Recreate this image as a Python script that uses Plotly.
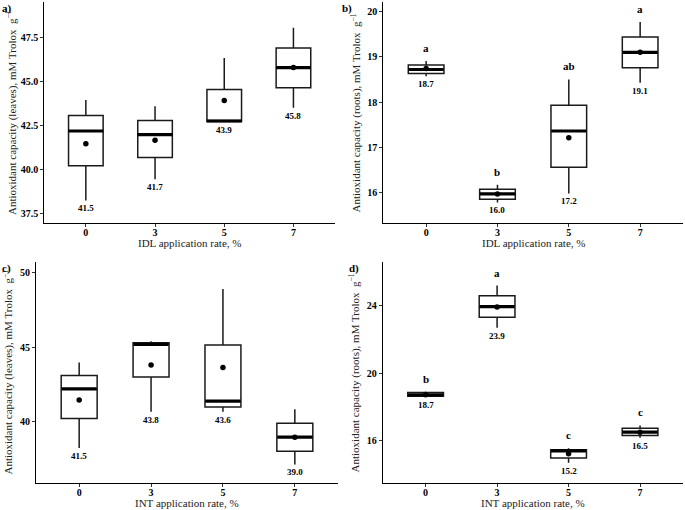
import plotly.graph_objects as go
from plotly.subplots import make_subplots

rates = ["0", "3", "5", "7"]

# a) IDL, leaves
a_q1 = [40.22, 40.70, 42.74, 44.66]
a_med = [42.20, 42.00, 42.77, 45.81]
a_q3 = [43.09, 42.80, 44.56, 46.93]
a_lo = [38.25, 39.45, 42.74, 43.52]
a_hi = [43.97, 43.61, 46.36, 48.07]
a_mean = [41.47, 41.68, 43.93, 45.81]

# b) IDL, roots
b_q1 = [18.63, 15.85, 16.56, 18.76]
b_med = [18.72, 15.97, 17.36, 19.10]
b_q3 = [18.82, 16.07, 17.93, 19.44]
b_lo = [18.57, 15.78, 15.98, 18.43]
b_hi = [18.91, 16.17, 18.50, 19.77]
b_mean = [18.74, 15.97, 17.21, 19.10]
b_letters = ["a", "b", "ab", "a"]

# c) INT, leaves
c_q1 = [40.22, 43.00, 41.00, 38.04]
c_med = [42.20, 45.18, 41.38, 38.98]
c_q3 = [43.09, 45.29, 45.13, 39.91]
c_lo = [38.25, 40.67, 40.67, 37.16]
c_hi = [43.97, 45.38, 48.87, 40.84]
c_mean = [41.47, 43.80, 43.64, 38.98]

# d) INT, roots
d_q1 = [18.64, 23.31, 15.00, 16.33]
d_med = [18.73, 23.94, 15.42, 16.52]
d_q3 = [18.86, 24.59, 15.48, 16.76]
d_lo = [18.60, 22.69, 14.72, 16.19]
d_hi = [18.92, 25.19, 15.57, 16.92]
d_mean = [18.73, 23.92, 15.24, 16.52]
d_letters = ["b", "a", "c", "c"]

FONT = "Liberation Serif, Times New Roman, serif"

panels = [
    dict(row=1, col=1, tag="a)", q1=a_q1, med=a_med, q3=a_q3, lo=a_lo, hi=a_hi, mean=a_mean, letters=None,
         xt="IDL application rate, %", part="leaves", rng=[36.95, 49.56], dtick=2.5, tick0=37.5, fmt=".1f"),
    dict(row=1, col=2, tag="b)", q1=b_q1, med=b_med, q3=b_q3, lo=b_lo, hi=b_hi, mean=b_mean, letters=b_letters,
         xt="IDL application rate, %", part="roots", rng=[15.32, 20.22], dtick=1, tick0=16, fmt="d"),
    dict(row=2, col=1, tag="c)", q1=c_q1, med=c_med, q3=c_q3, lo=c_lo, hi=c_hi, mean=c_mean, letters=None,
         xt="INT application rate, %", part="leaves", rng=[35.9, 50.7], dtick=5, tick0=40, fmt="d"),
    dict(row=2, col=2, tag="d)", q1=d_q1, med=d_med, q3=d_q3, lo=d_lo, hi=d_hi, mean=d_mean, letters=d_letters,
         xt="INT application rate, %", part="roots", rng=[13.5, 26.6], dtick=4, tick0=16, fmt="d"),
]

xdomains = {(1, 1): [0.0647, 0.489], (1, 2): [0.5596, 0.997],
            (2, 1): [0.0526, 0.4934], (2, 2): [0.5587, 0.997]}
ydomains = {1: [0.5622, 0.9967], 2: [0.0524, 0.4869]}
xtitle_y = {1: 0.5229, 2: 0.0131}
ytitle_x = {(1, 1): 0.0168, (1, 2): 0.5197, (2, 1): 0.0117, (2, 2): 0.5182}
tagpos = {(1, 1): (0.0, 1.0), (1, 2): (0.497, 1.0), (2, 1): (0.0, 0.49), (2, 2): (0.506, 0.49)}

fig = make_subplots(rows=2, cols=2)

for p in panels:
    r, c = p["row"], p["col"]
    fig.add_trace(go.Box(x=rates, q1=p["q1"], median=p["med"], q3=p["q3"],
                         lowerfence=p["lo"], upperfence=p["hi"],
                         width=0.5, whiskerwidth=0, boxpoints=False,
                         fillcolor="white", line=dict(color="#1a1a1a", width=1.5),
                         hoverinfo="skip", showlegend=False), row=r, col=c)
    # thick median bar
    fig.add_trace(go.Scatter(x=rates, y=p["med"], mode="markers",
                             marker=dict(symbol="line-ew", size=25,
                                         line=dict(color="black", width=3.2)),
                             showlegend=False, hoverinfo="skip"), row=r, col=c)
    # mean point
    fig.add_trace(go.Scatter(x=rates, y=p["mean"], mode="markers",
                             marker=dict(symbol="circle", size=5.5, color="black"),
                             showlegend=False, hoverinfo="skip"), row=r, col=c)

    idx = (r - 1) * 2 + c
    xref = "x" if idx == 1 else "x%d" % idx
    yref = "y" if idx == 1 else "y%d" % idx
    for i, m in enumerate(p["mean"]):
        fig.add_annotation(x=i, y=p["lo"][i], xref=xref, yref=yref, text="<b>%.1f</b>" % m,
                           showarrow=False, yanchor="top", yshift=-1,
                           font=dict(family=FONT, size=9, color="black"))
        if p["letters"]:
            fig.add_annotation(x=i, y=p["hi"][i], xref=xref, yref=yref, text="<b>%s</b>" % p["letters"][i],
                               showarrow=False, yanchor="bottom", yshift=5,
                               font=dict(family=FONT, size=11, color="black"))

    tx, ty = tagpos[(r, c)]
    fig.add_annotation(x=tx, y=ty, xref="paper", yref="paper", text="<b>%s</b>" % p["tag"],
                       showarrow=False, xanchor="left", yanchor="top",
                       font=dict(family=FONT, size=11, color="black"))
    # axis titles
    xd = xdomains[(r, c)]
    yd = ydomains[r]
    fig.add_annotation(x=(xd[0] + xd[1]) / 2, y=xtitle_y[r], xref="paper", yref="paper", text=p["xt"],
                       showarrow=False, xanchor="center", yanchor="middle",
                       font=dict(family=FONT, size=11, color="#222222"))
    fig.add_annotation(x=ytitle_x[(r, c)], y=(yd[0] + yd[1]) / 2, xref="paper", yref="paper",
                       text="Antioxidant capacity (%s), mM Trolox  g<sup>\u22121</sup>" % p["part"],
                       textangle=-90, showarrow=False, xanchor="center", yanchor="middle",
                       font=dict(family=FONT, size=11, color="#222222"))

    fig.update_xaxes(type="category", range=[-0.6, 3.6], domain=xd,
                     showline=True, linecolor="black", linewidth=1, mirror=False,
                     ticks="outside", ticklen=3, tickcolor="#333333", showgrid=False, zeroline=False,
                     ticklabelstandoff=-3,
                     tickfont=dict(family=FONT, size=10, color="black", weight="bold"),
                     automargin=False, row=r, col=c)
    fig.update_yaxes(range=p["rng"], dtick=p["dtick"], tick0=p["tick0"], tickformat=p["fmt"],
                     domain=yd,
                     showline=True, linecolor="black", linewidth=1, mirror=False,
                     ticks="outside", ticklen=3, tickcolor="#333333", showgrid=False, zeroline=False,
                     tickfont=dict(family=FONT, size=10, color="black", weight="bold"),
                     automargin=False, row=r, col=c)

fig.update_layout(width=685, height=510, margin=dict(l=0, r=0, t=0, b=0),
                  plot_bgcolor="white", paper_bgcolor="white", boxmode="overlay",
                  font=dict(family=FONT, color="black"))

fig.write_html("out.html", config={"displayModeBar": False},
               post_script="document.body.style.margin='0';")
